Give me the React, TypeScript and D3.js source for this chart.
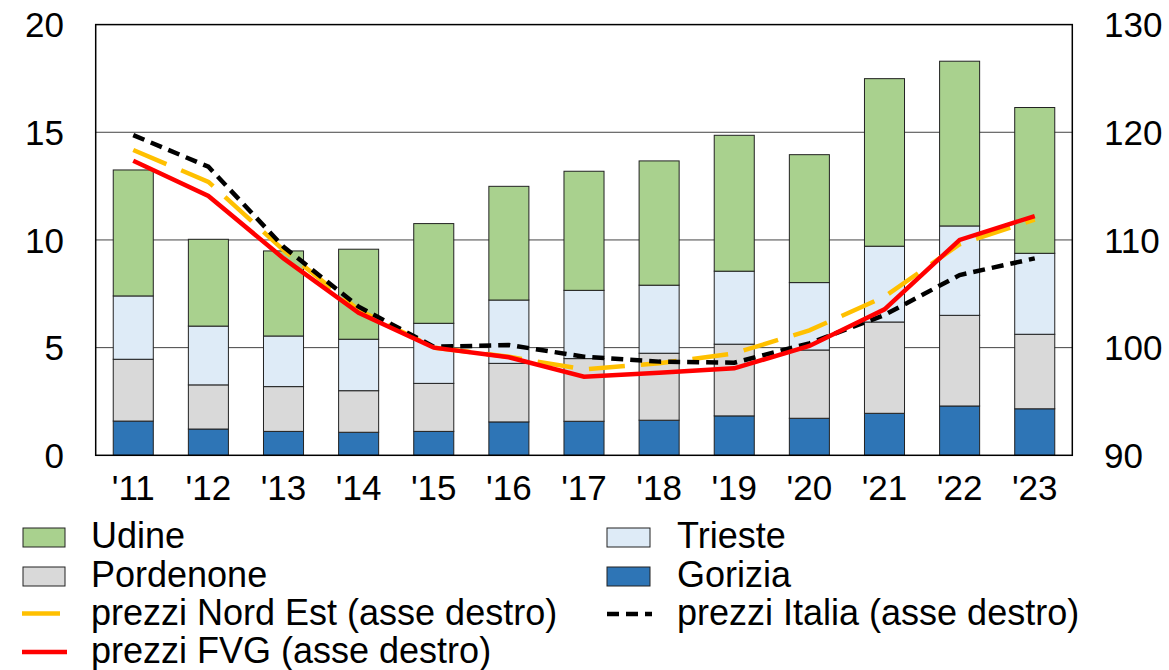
import React from "react";
import * as d3 from "d3";

const years = ["'11", "'12", "'13", "'14", "'15", "'16", "'17", "'18", "'19", "'20", "'21", "'22", "'23"];
const gorizia = [1.59, 1.22, 1.11, 1.07, 1.11, 1.55, 1.58, 1.63, 1.83, 1.72, 1.95, 2.29, 2.16];
const pordenone = [2.87, 2.05, 2.08, 1.93, 2.23, 2.72, 2.91, 3.11, 3.33, 3.17, 4.24, 4.21, 3.46];
const trieste = [2.94, 2.73, 2.35, 2.39, 2.79, 2.94, 3.17, 3.16, 3.39, 3.13, 3.52, 4.15, 3.76];
const udine = [5.85, 4.03, 3.95, 4.18, 4.63, 5.28, 5.53, 5.77, 6.31, 5.94, 7.78, 7.65, 6.77];
const prezziFVG = [117.35, 114.08, 108.29, 103.24, 100.0, 99.1, 97.3, 97.67, 98.08, 100.15, 103.56, 110.0, 112.22];
const prezziNordEst = [118.35, 115.4, 109.06, 103.5, 100.0, 99.15, 97.98, 98.54, 99.47, 101.6, 104.73, 109.6, 111.9];
const prezziItalia = [119.74, 116.8, 109.37, 103.8, 100.08, 100.24, 99.16, 98.7, 98.6, 100.4, 103.03, 106.74, 108.29];
const leftTicks = [0, 5, 10, 15, 20];
const rightTicks = [90, 100, 110, 120, 130];

const W = 1169;
const H = 670;
const L = 95.7, R = 1072.3, T = 24.6, B = 455.3;
const FONT = "'Liberation Sans', Arial, sans-serif";
const FS = 35;
const LFS = 36;

const stackKeys = [
  { name: "Gorizia", values: gorizia, color: "#2E75B6" },
  { name: "Pordenone", values: pordenone, color: "#D9D9D9" },
  { name: "Trieste", values: trieste, color: "#DEEBF7" },
  { name: "Udine", values: udine, color: "#A9D18E" },
];

export default function App() {
  const x = d3.scaleBand<string>().domain(years).range([L, R]).paddingInner(0.467).paddingOuter(0.2335);
  const yL = d3.scaleLinear().domain([0, 20]).range([B, T]);
  const yR = d3.scaleLinear().domain([90, 130]).range([B, T]);

  const rows = years.map((yr, i) => {
    const r: any = { year: yr };
    stackKeys.forEach((k) => (r[k.name] = k.values[i]));
    return r;
  });
  const stack = d3.stack().keys(stackKeys.map((k) => k.name))(rows);

  const cx = (i: number) => (x(years[i]) as number) + x.bandwidth() / 2;
  const line = d3.line<number>().x((_, i) => cx(i)).y((d) => yR(d));

  return (
    <svg width={W} height={H} style={{ position: "absolute", left: 0, top: 0, background: "#fff" }} fontFamily={FONT}>
      {leftTicks.filter((t) => t > 0 && t < 20).map((t) => (
        <line key={t} x1={L} x2={R} y1={yL(t)} y2={yL(t)} stroke="#444" strokeWidth={1} />
      ))}
      {stack.map((s, si) => (
        <g key={s.key}>
          {s.map((d, i) => (
            <rect
              key={i}
              x={x(years[i])}
              width={x.bandwidth()}
              y={yL(d[1])}
              height={yL(d[0]) - yL(d[1])}
              fill={stackKeys[si].color}
              stroke="#222"
              strokeWidth={1}
            />
          ))}
        </g>
      ))}
      <path d={line(prezziNordEst) || ""} fill="none" stroke="#FFC000" strokeWidth={4.5} strokeDasharray="36,16" />
      <path d={line(prezziItalia) || ""} fill="none" stroke="#000" strokeWidth={4.5} strokeDasharray="12,7" />
      <path d={line(prezziFVG) || ""} fill="none" stroke="#FF0000" strokeWidth={4.5} />
      <rect x={L} y={T} width={R - L} height={B - T} fill="none" stroke="#000" strokeWidth={1.5} />
      {leftTicks.map((t) => (
        <text key={t} x={64} y={yL(t)} dy="0.36em" textAnchor="end" fontSize={FS} fill="#000">
          {t}
        </text>
      ))}
      {rightTicks.map((t) => (
        <text key={t} x={1104} y={yR(t)} dy="0.36em" textAnchor="start" fontSize={FS} fill="#000">
          {t}
        </text>
      ))}
      {years.map((yr, i) => (
        <text key={yr} x={cx(i)} y={500} textAnchor="middle" fontSize={FS} fill="#000">
          {yr}
        </text>
      ))}
      {/* legend */}
      <g fontSize={LFS} fill="#000">
        <rect x={23} y={528} width={42} height={19} fill="#A9D18E" stroke="#222" strokeWidth={1} />
        <text x={91} y={548}>Udine</text>
        <rect x={607} y={528} width={43} height={19} fill="#DEEBF7" stroke="#222" strokeWidth={1} />
        <text x={677} y={548}>Trieste</text>
        <rect x={23} y={567} width={42} height={19} fill="#D9D9D9" stroke="#222" strokeWidth={1} />
        <text x={91} y={587}>Pordenone</text>
        <rect x={607} y={567} width={43} height={19} fill="#2E75B6" stroke="#222" strokeWidth={1} />
        <text x={677} y={587}>Gorizia</text>
        <line x1={22} x2={60} y1={613.5} y2={613.5} stroke="#FFC000" strokeWidth={4.5} />
        <text x={91} y={625}>prezzi Nord Est (asse destro)</text>
        <line x1={607} x2={652} y1={614} y2={614} stroke="#000" strokeWidth={4.5} strokeDasharray="12,7" />
        <text x={677} y={625}>prezzi Italia (asse destro)</text>
        <line x1={22} x2={67} y1={652} y2={652} stroke="#FF0000" strokeWidth={4.5} />
        <text x={91} y={663}>prezzi FVG (asse destro)</text>
      </g>
    </svg>
  );
}
